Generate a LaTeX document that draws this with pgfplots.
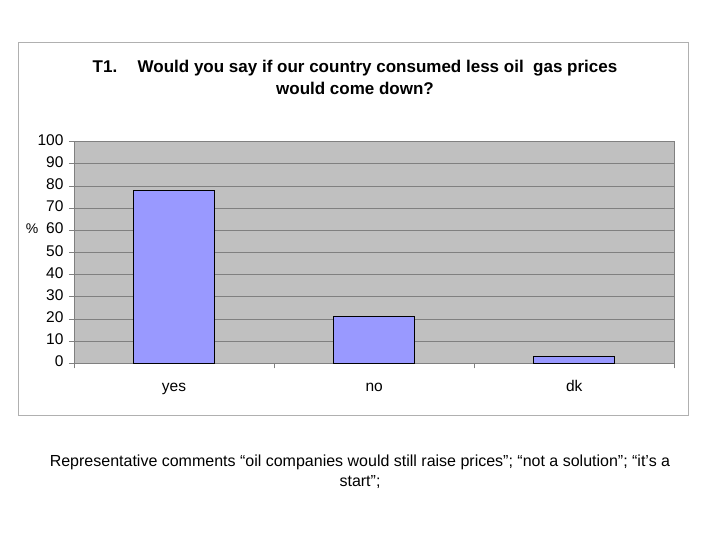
\documentclass[border=0pt]{standalone}
\usepackage{pgfplots}
\pgfplotsset{compat=1.18}
\usepackage{fontspec}
\setmainfont{Liberation Sans}
\definecolor{plotbg}{HTML}{C0C0C0}
\definecolor{barblue}{HTML}{9999FF}
\definecolor{framegray}{HTML}{B0B0B0}
\definecolor{gridgray}{HTML}{808080}
\begin{document}
\begin{tikzpicture}[x=1pt,y=1pt]
\path[use as bounding box, fill=white] (0,0) rectangle (720,540);
\draw[framegray, line width=1pt, fill=white] (18.5,124) rectangle (688,497);
\begin{axis}[
  at={(74pt,176.7pt)}, anchor=south west,
  scale only axis, width=600.3pt, height=221.6pt,
  xmin=-0.5, xmax=2.5, ymin=0, ymax=100,
  ytick={0,10,...,100},
  xtick={-0.5,0.5,1.5,2.5}, xticklabels={},
  extra x ticks={0,1,2}, extra x tick labels={yes,no,dk},
  extra x tick style={major tick length=0pt},
  typeset ticklabels with strut,
  tick align=outside, major tick length=5pt, tick pos=left,
  tick style={gridgray, line width=0.8pt},
  axis background/.style={fill=plotbg},
  ymajorgrids, grid style={gridgray, line width=0.9pt},
  axis line style={gridgray, line width=0.9pt},
  /pgf/number format/assume math mode=true,
  tick label style={font=\fontsize{15.5}{18}\selectfont},
  yticklabel style={xshift=-2pt},
  xticklabel style={yshift=-12pt},
]
\addplot[ybar, bar width=81pt, fill=barblue, draw=black, line width=1pt] coordinates {(0,78) (1,21) (2,3)};
\end{axis}
\node[font=\fontsize{14}{16}\selectfont] at (32,311) {\%};
\node[align=center, font=\bfseries\fontsize{17}{22}\selectfont] at (355,463) {T1.\hspace{1.2em}Would you say if our country consumed less oil\ \ gas prices\\would come down?};
\node[align=center, font=\fontsize{16}{20}\selectfont] at (360,68) {Representative comments “oil companies would still raise prices”; “not a solution”; “it’s a\\start”;};
\end{tikzpicture}
\end{document}
